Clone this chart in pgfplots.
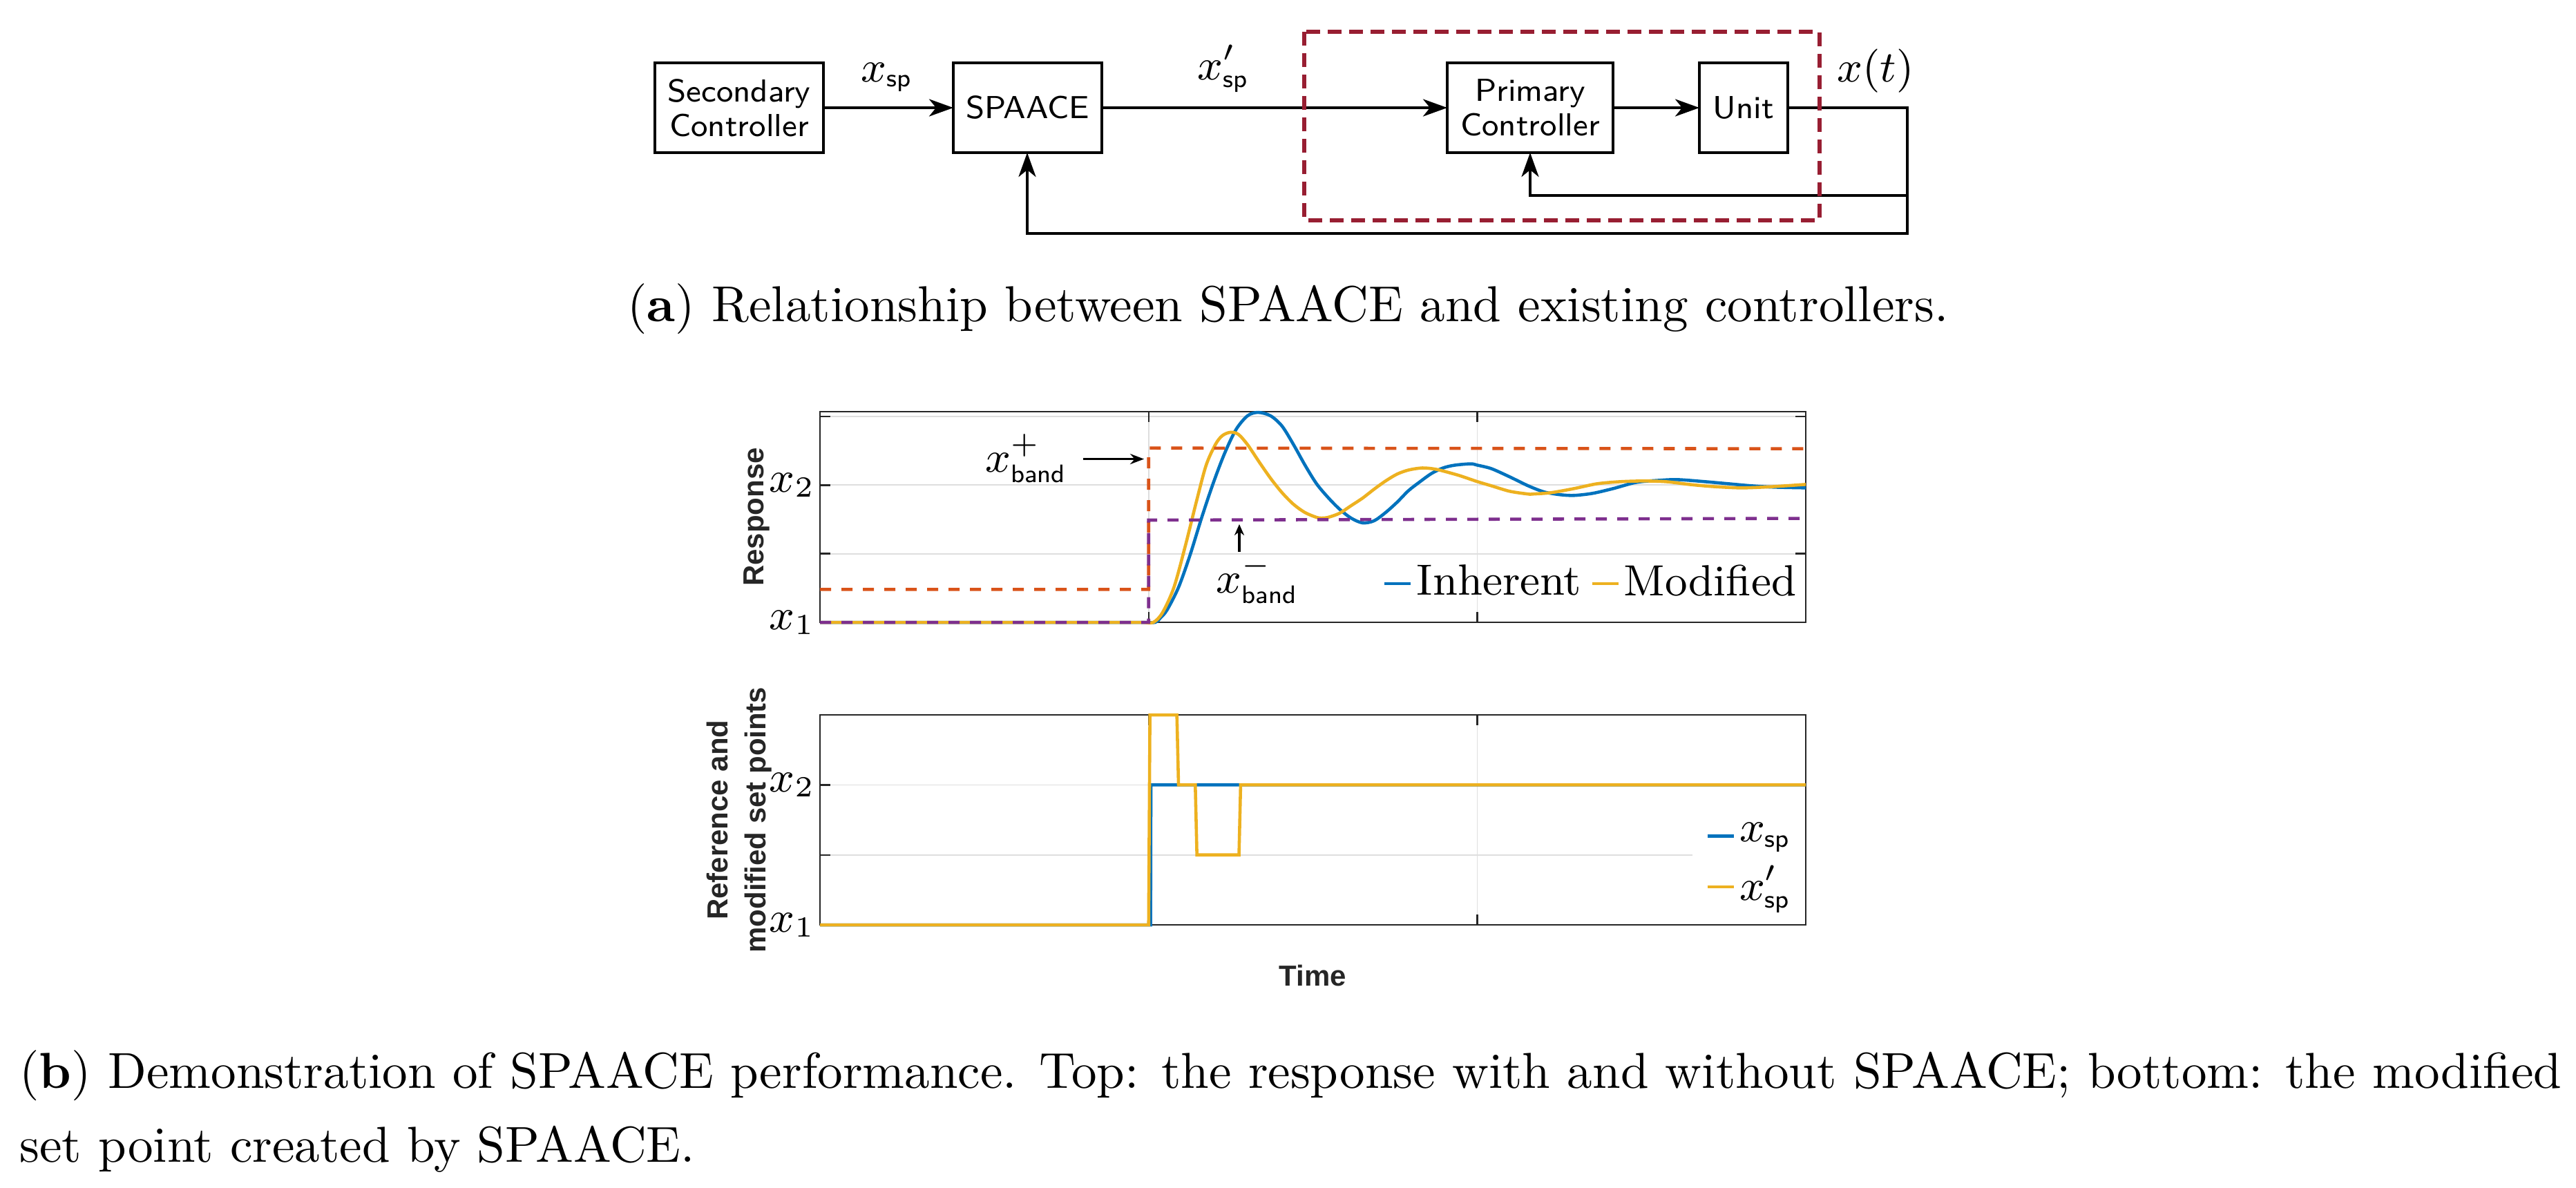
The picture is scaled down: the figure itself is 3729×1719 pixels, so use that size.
\documentclass[border=0pt]{standalone}
\usepackage{fontspec}
\usepackage{pgfplots}
\pgfplotsset{compat=1.18}
\usetikzlibrary{arrows.meta}
\newfontfamily\helv{Liberation Sans}
\definecolor{mblue}{RGB}{0,114,189}
\definecolor{morange}{RGB}{217,83,25}
\definecolor{myellow}{RGB}{237,177,32}
\definecolor{mpurple}{RGB}{126,47,142}
\definecolor{boxred}{RGB}{152,30,50}
\definecolor{axgray}{RGB}{38,38,38}
\definecolor{gridgray}{RGB}{222,222,222}
\newcommand{\ssub}[1]{\hbox{\fontsize{5.2}{6}\selectfont\sffamily #1}}
\newcommand{\mfont}{\fontsize{9}{11}\selectfont}
\newcommand{\lfont}{\fontsize{5.97}{7.8}\selectfont\helv\bfseries}
\newcommand{\dfont}{\fontsize{6.55}{7.1}\selectfont\sffamily}
\newcommand{\cfont}{\fontsize{10.4}{12.5}\selectfont}
\pgfplotsset{mstyle/.style={
  scale only axis, width=71.35mm,
  xmin=0, xmax=3, ymin=0,
  xtick={1,2}, xticklabels={},
  ytick={0,1,2,3}, yticklabels={$x_1$,,$x_2$,},
  grid=major, major grid style={draw=gridgray, line width=0.25pt},
  tick align=inside, major tick length=0.75mm,
  axis line style={draw=axgray, line width=0.35pt},
  tick style={draw=axgray, line width=0.35pt},
  ticklabel style={font=\mfont},
  yticklabel style={inner xsep=0.8pt},
  clip=false,
  every axis plot/.append style={line width=0.65pt},
  label style={font=\lfont, text=axgray},
  legend image code/.code={\draw[#1] (0mm,0mm) -- (1.9mm,0mm);},
}}
\begin{document}
\begin{tikzpicture}[x=0.05mm,y=0.05mm]
% ---------------- block diagram ----------------
\begin{scope}[line width=0.55pt, line join=miter, >={Stealth[length=1.75mm,width=1.25mm,inset=0.5mm]}]
\draw (948,-91) rectangle (1192,-221);
\node[align=center, font=\dfont] at (1070,-156) {Secondary\\Controller};
\draw (1380,-91) rectangle (1595,-221);
\node[font=\dfont] at (1487.5,-156) {SPAACE};
\draw (2095,-91) rectangle (2335,-221);
\node[align=center, font=\dfont] at (2215,-156) {Primary\\Controller};
\draw (2460,-91) rectangle (2588,-221);
\node[font=\dfont] at (2524,-156) {Unit};
\draw[->] (1192,-156) -- (1380,-156);
\draw[->] (1595,-156) -- (2095,-156);
\draw[->] (2335,-156) -- (2460,-156);
\draw[->] (2588,-156) -- (2761,-156) -- (2761,-338) -- (1487,-338) -- (1487,-221);
\draw[->] (2761,-283) -- (2215,-283) -- (2215,-221);
\draw[boxred, line width=0.9pt, dash pattern=on 1.0mm off 0.55mm] (1888,-46) rectangle (2634,-319);
\node[anchor=base, inner sep=0pt, font=\mfont] at (1284,-118) {$x_{\ssub{sp}}$};
\node[anchor=base, inner sep=0pt, font=\mfont] at (1771,-115) {$x'_{\ssub{sp}}$};
\node[anchor=base, inner sep=0pt, font=\mfont] at (2715,-118) {$x(t)$};
\end{scope}
\node[anchor=base, inner sep=0pt, font=\cfont] at (1864.5,-465) {(\textbf{a}) Relationship between SPAACE and existing controllers.};
% ---------------- top plot ----------------
\begin{axis}[mstyle, at={(59.35mm,-45.05mm)}, anchor=south west, height=15.25mm, ymax=3.07,
  ylabel={Response}, ylabel style={at={(axis description cs:-0.0640,0.5)}, anchor=center},
  legend columns=2,
  legend style={at={(0.9902,0.1836)}, anchor=east, draw=none, fill=none, inner sep=0pt, outer sep=0pt, font=\mfont, nodes={inner sep=0pt},
    /tikz/every odd column/.append style={column sep=0.3mm},
    /tikz/every even column/.append style={column sep=0.65mm}},
]
\addplot[mblue, smooth] coordinates {
(0,0) (0.9,0) (0.98,0) (1.020,0) (1.035,0.06) (1.056,0.18) (1.091,0.51) (1.126,0.98) (1.161,1.52) (1.196,2.02)
(1.231,2.46) (1.266,2.81) (1.301,3.01) (1.333,3.06) (1.371,3.01) (1.406,2.86) (1.441,2.59) (1.476,2.29)
(1.511,2.02) (1.546,1.82) (1.581,1.65) (1.616,1.52) (1.651,1.45) (1.686,1.48) (1.721,1.60) (1.756,1.75)
(1.791,1.92) (1.826,2.05) (1.861,2.17) (1.896,2.25) (1.931,2.29) (1.980,2.31) (2.001,2.29) (2.043,2.24)
(2.099,2.12) (2.155,1.99) (2.204,1.90) (2.253,1.86) (2.295,1.85) (2.351,1.88) (2.414,1.95) (2.484,2.04)
(2.554,2.07) (2.610,2.08) (2.694,2.05) (2.764,2.02) (2.834,1.99) (2.904,1.97) (3.0,1.96)};
\addlegendentry{Inherent}
\addplot[myellow, smooth] coordinates {
(0,0) (0.9,0) (0.98,0) (1.014,0) (1.042,0.14) (1.077,0.51) (1.112,1.12) (1.147,1.79) (1.175,2.29) (1.203,2.59)
(1.224,2.72) (1.249,2.77) (1.273,2.74) (1.301,2.59) (1.336,2.34) (1.371,2.10) (1.406,1.89) (1.441,1.72)
(1.476,1.60) (1.511,1.53) (1.525,1.52) (1.546,1.53) (1.581,1.59) (1.616,1.70) (1.651,1.81) (1.686,1.94)
(1.721,2.06) (1.756,2.16) (1.791,2.22) (1.833,2.25) (1.875,2.23) (1.931,2.16) (1.958,2.12) (2.001,2.05)
(2.043,1.99) (2.099,1.91) (2.155,1.87) (2.169,1.87) (2.225,1.89) (2.295,1.95) (2.365,2.02) (2.435,2.05)
(2.505,2.06) (2.575,2.05) (2.645,2.01) (2.715,1.98) (2.799,1.96) (2.869,1.97) (2.939,1.99) (3.0,2.01)};
\addlegendentry{Modified}
\addplot[morange, dash pattern=on 0.8mm off 0.75mm, forget plot] coordinates {(0,0.48) (1,0.48) (1,2.54) (3,2.53)};
\addplot[mpurple, dash pattern=on 0.8mm off 0.75mm, forget plot] coordinates {(0,0) (1,0) (1,1.49) (3,1.515)};
\node[anchor=base west, inner sep=0pt, font=\mfont] at (axis cs:0.500,2.19) {$x^{+}_{\ssub{band}}$};
\draw[-{Stealth[length=1.0mm,width=0.75mm]}, line width=0.5pt] (axis cs:0.801,2.38) -- (axis cs:0.986,2.38);
\node[anchor=base west, inner sep=0pt, font=\mfont] at (axis cs:1.203,0.43) {$x^{-}_{\ssub{band}}$};
\draw[-{Stealth[length=0.8mm,width=0.7mm]}, line width=0.45pt] (axis cs:1.276,1.03) -- (axis cs:1.276,1.43);
\end{axis}
% ---------------- bottom plot ----------------
\begin{axis}[mstyle, at={(59.35mm,-66.95mm)}, anchor=south west, height=15.2mm, ymax=3,
  ylabel={Reference and\\modified set points},
  ylabel style={align=center, at={(axis description cs:-0.082,0.5)}, anchor=center},
  xlabel={Time}, xlabel style={at={(axis description cs:0.5,-0.2418)}, anchor=center},
  legend style={at={(0.8837,0.283)}, anchor=west, draw=none, fill=white, inner sep=1mm, font=\mfont,
    nodes={inner sep=0pt}, row sep=1.2mm, cells={anchor=west},
    /tikz/every odd column/.append style={column sep=0.3mm}},
]
\addplot[mblue] coordinates {(0,0) (1.006,0) (1.007,2) (3,2)};
\addlegendentry{$x_{\ssub{sp}}$}
\addplot[myellow] coordinates {(0,0) (1.0,0) (1.004,3) (1.086,3) (1.091,2) (1.142,2) (1.147,1) (1.275,1) (1.280,2) (3,2)};
\addlegendentry{$x'_{\ssub{sp}}$}
\end{axis}
% ---------------- caption b ----------------
\node[anchor=base west, inner sep=0pt, font=\cfont] at (27,-1575) {\makebox[184mm][s]{(\textbf{b}) Demonstration of SPAACE performance. Top: the response with and without SPAACE; bottom: the modified}};
\node[anchor=base west, inner sep=0pt, font=\cfont] at (27,-1682) {set point created by SPAACE.};
\pgfresetboundingbox
\useasboundingbox (0,0) rectangle (3729,-1719);
\end{tikzpicture}
\end{document}
